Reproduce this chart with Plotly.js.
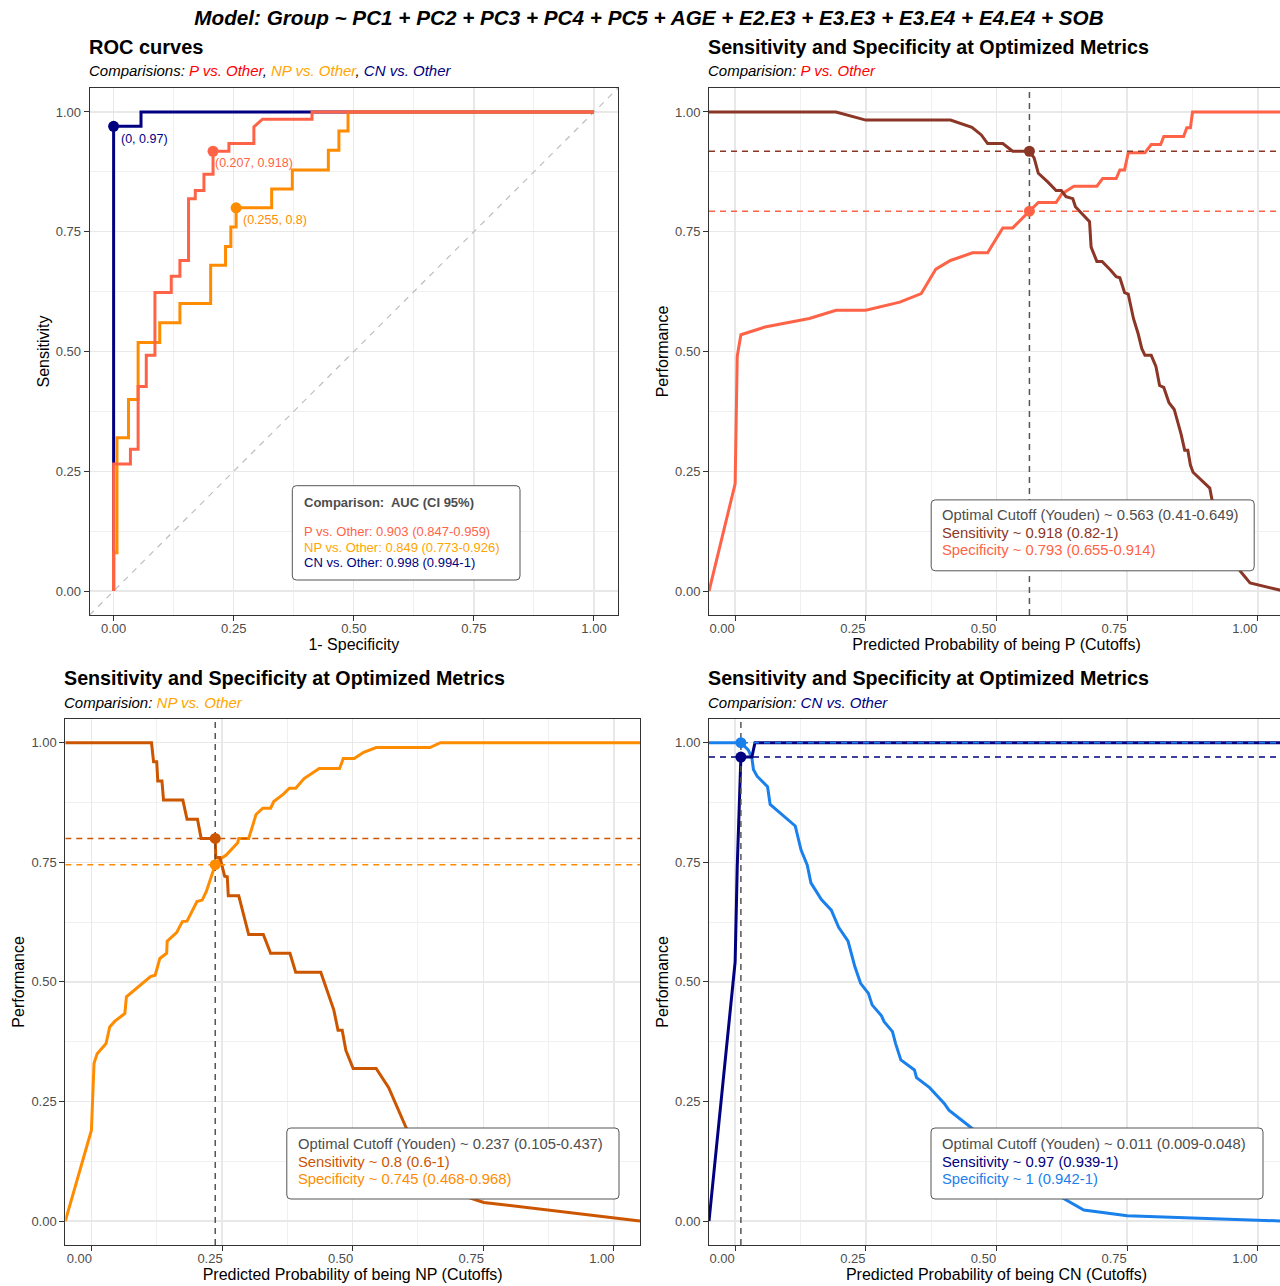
<!DOCTYPE html>
<html><head><meta charset="utf-8">
<script src="https://cdn.plot.ly/plotly-3.0.1.min.js"></script>
<style>html,body{margin:0;padding:0;overflow:hidden;background:#fff;}#chart{width:1290px;height:1286px;}</style>
</head><body><div id="chart"></div>
<script>
// ---------- DATA ----------
const tickVals = [0, 0.25, 0.5, 0.75, 1];
const tickLabels = ['0.00', '0.25', '0.50', '0.75', '1.00'];
const minorVals = [0.125, 0.375, 0.625, 0.875];
const axisRange = [-0.05, 1.05];

// ROC curves (1 - specificity, sensitivity)
const rocP_fpr = [0, 0, 0.035, 0.035, 0.051, 0.051, 0.068, 0.068, 0.086, 0.086, 0.120, 0.120, 0.138, 0.138, 0.156, 0.156, 0.170, 0.170, 0.188, 0.188, 0.207, 0.207, 0.240, 0.240, 0.292, 0.292, 0.310, 0.413, 0.413, 1];
const rocP_tpr = [0, 0.265, 0.265, 0.296, 0.296, 0.427, 0.427, 0.492, 0.492, 0.623, 0.623, 0.657, 0.657, 0.690, 0.690, 0.819, 0.819, 0.836, 0.836, 0.870, 0.870, 0.918, 0.918, 0.934, 0.934, 0.969, 0.985, 0.985, 1, 1];
const rocNP_fpr = [0, 0, 0.007, 0.007, 0.031, 0.031, 0.051, 0.051, 0.096, 0.096, 0.138, 0.138, 0.202, 0.202, 0.233, 0.233, 0.244, 0.244, 0.255, 0.255, 0.329, 0.329, 0.372, 0.372, 0.447, 0.447, 0.469, 0.469, 0.488, 0.488, 1];
const rocNP_tpr = [0, 0.080, 0.080, 0.320, 0.320, 0.400, 0.400, 0.519, 0.519, 0.560, 0.560, 0.600, 0.600, 0.680, 0.680, 0.719, 0.719, 0.760, 0.760, 0.800, 0.800, 0.839, 0.839, 0.879, 0.879, 0.920, 0.920, 0.960, 0.960, 1, 1];
const rocCN_fpr = [0, 0, 0.057, 0.057, 1];
const rocCN_tpr = [0, 0.970, 0.970, 1, 1];

// Optimal points
const optP = {cut: 0.563, sens: 0.918, spec: 0.793};
const optNP = {cut: 0.237, sens: 0.8, spec: 0.745};
const optCN = {cut: 0.011, sens: 0.97, spec: 1};

// AUC table
const aucLabels = ['P vs. Other: 0.903 (0.847-0.959)', 'NP vs. Other: 0.849 (0.773-0.926)', 'CN vs. Other: 0.998 (0.994-1)'];

// P vs Other: performance vs cutoff (axis edges stand for -Inf / +Inf thresholds)
const P_cutSens = [-0.05, 0.193, 0.250, 0.412, 0.453, 0.471, 0.483, 0.512, 0.531, 0.563, 0.572, 0.580, 0.598, 0.614, 0.624, 0.633, 0.646, 0.651, 0.678, 0.681, 0.692, 0.702, 0.718, 0.729, 0.736, 0.745, 0.752, 0.762, 0.771, 0.778, 0.784, 0.796, 0.805, 0.812, 0.820, 0.830, 0.840, 0.853, 0.860, 0.866, 0.871, 0.876, 0.908, 0.912, 0.930, 0.950, 0.966, 0.985, 1.05];
const P_sens = [1, 1, 0.983, 0.983, 0.968, 0.952, 0.934, 0.934, 0.918, 0.918, 0.904, 0.872, 0.854, 0.836, 0.836, 0.823, 0.819, 0.802, 0.771, 0.718, 0.688, 0.688, 0.670, 0.656, 0.654, 0.623, 0.620, 0.569, 0.537, 0.506, 0.492, 0.492, 0.469, 0.429, 0.425, 0.393, 0.379, 0.328, 0.294, 0.294, 0.263, 0.248, 0.215, 0.192, 0.140, 0.080, 0.042, 0.017, 0];
const P_cutSpec = [-0.05, 0, 0.004, 0.011, 0.057, 0.142, 0.193, 0.250, 0.315, 0.356, 0.384, 0.412, 0.454, 0.483, 0.512, 0.531, 0.563, 0.580, 0.614, 0.625, 0.648, 0.692, 0.703, 0.729, 0.736, 0.745, 0.752, 0.784, 0.796, 0.814, 0.820, 0.858, 0.864, 0.871, 0.875, 1.05];
const P_spec = [0, 0.224, 0.490, 0.535, 0.551, 0.569, 0.586, 0.586, 0.603, 0.621, 0.672, 0.690, 0.706, 0.706, 0.758, 0.758, 0.793, 0.811, 0.811, 0.829, 0.845, 0.845, 0.861, 0.861, 0.879, 0.879, 0.915, 0.915, 0.932, 0.932, 0.949, 0.949, 0.967, 0.967, 1, 1];

// NP vs Other
const NP_cutSens = [-0.05, 0.115, 0.119, 0.125, 0.127, 0.135, 0.138, 0.175, 0.183, 0.203, 0.210, 0.237, 0.238, 0.246, 0.255, 0.260, 0.262, 0.282, 0.301, 0.329, 0.343, 0.380, 0.391, 0.439, 0.464, 0.472, 0.480, 0.487, 0.501, 0.545, 0.569, 0.602, 0.650, 0.720, 0.751, 1.05];
const NP_sens = [1, 1, 0.960, 0.960, 0.920, 0.920, 0.880, 0.880, 0.840, 0.840, 0.800, 0.800, 0.760, 0.760, 0.721, 0.720, 0.680, 0.680, 0.599, 0.599, 0.560, 0.560, 0.520, 0.520, 0.441, 0.399, 0.399, 0.357, 0.319, 0.319, 0.279, 0.196, 0.120, 0.050, 0.039, 0];
const NP_cutSpec = [-0.05, 0, 0.005, 0.011, 0.028, 0.035, 0.045, 0.064, 0.067, 0.113, 0.122, 0.131, 0.144, 0.145, 0.163, 0.174, 0.183, 0.202, 0.212, 0.220, 0.237, 0.244, 0.258, 0.280, 0.282, 0.301, 0.307, 0.315, 0.328, 0.343, 0.349, 0.368, 0.379, 0.391, 0.407, 0.436, 0.475, 0.482, 0.503, 0.521, 0.545, 0.648, 0.668, 1.05];
const NP_spec = [0, 0.190, 0.330, 0.350, 0.371, 0.406, 0.418, 0.434, 0.469, 0.511, 0.514, 0.549, 0.560, 0.585, 0.603, 0.626, 0.627, 0.668, 0.671, 0.689, 0.745, 0.755, 0.765, 0.791, 0.800, 0.800, 0.821, 0.850, 0.863, 0.863, 0.877, 0.893, 0.905, 0.905, 0.925, 0.946, 0.946, 0.967, 0.967, 0.980, 0.990, 0.990, 1, 1];

// CN vs Other
const CN_cutSens = [-0.05, 0, 0.004, 0.011, 0.032, 0.038, 1.05];
const CN_sens = [0, 0.542, 0.741, 0.970, 0.970, 1, 1];
const CN_cutSpec = [-0.05, 0.011, 0.025, 0.032, 0.035, 0.042, 0.062, 0.067, 0.115, 0.126, 0.138, 0.145, 0.165, 0.184, 0.198, 0.216, 0.229, 0.240, 0.255, 0.262, 0.280, 0.285, 0.301, 0.307, 0.317, 0.343, 0.347, 0.372, 0.400, 0.409, 0.453, 0.520, 0.580, 0.630, 0.667, 0.750, 1.05];
const CN_spec = [1, 1, 0.985, 0.969, 0.944, 0.930, 0.908, 0.871, 0.826, 0.776, 0.744, 0.707, 0.672, 0.650, 0.614, 0.585, 0.532, 0.497, 0.476, 0.452, 0.429, 0.417, 0.396, 0.371, 0.337, 0.316, 0.300, 0.279, 0.246, 0.232, 0.194, 0.140, 0.080, 0.046, 0.023, 0.011, 0];

// ---------- STYLE ----------
const W = 1290, H = 1286;
const FONT = '"Liberation Sans", Arial, Helvetica, sans-serif';
const C = {
  P: '#FF6347', NP: '#FF8C00', CN: '#000080',
  Psens: '#8B3626', Pspec: '#FF6347',
  NPsens: '#CC5500', NPspec: '#FF8C00',
  CNsens: '#000080', CNspec: '#1A80EC',
  grey: '#4D4D4D'
};
const X = v => v / W, Y = v => 1 - v / H;

function xax(dom, title, shift, anchor) {
  return {
    domain: [X(dom[0]), X(dom[1])], range: axisRange, anchor: anchor,
    tickmode: 'array', tickvals: tickVals, ticktext: tickLabels,
    minor: {tickmode: 'array', tickvals: minorVals, showgrid: true, gridcolor: '#F0F0F0', gridwidth: 1},
    showgrid: true, gridcolor: '#E8E8E8', gridwidth: 1.4, zeroline: false,
    showline: true, mirror: true, linecolor: '#333333', linewidth: 1,
    ticks: 'outside', ticklen: 5, tickcolor: '#333333', tickwidth: 1,
    tickfont: {family: FONT, size: 13, color: C.grey}, ticklabelshift: shift, ticklabelstandoff: -4,
    title: {text: title, font: {family: FONT, size: 16, color: '#000'}, standoff: 1},
    fixedrange: true
  };
}
function yax(dom, title, anchor) {
  return {
    domain: [Y(dom[1]), Y(dom[0])], range: axisRange, anchor: anchor,
    tickmode: 'array', tickvals: tickVals, ticktext: tickLabels,
    minor: {tickmode: 'array', tickvals: minorVals, showgrid: true, gridcolor: '#F0F0F0', gridwidth: 1},
    showgrid: true, gridcolor: '#E8E8E8', gridwidth: 1.4, zeroline: false,
    showline: true, mirror: true, linecolor: '#333333', linewidth: 1,
    ticks: 'outside', ticklen: 5, tickcolor: '#333333', tickwidth: 1,
    tickfont: {family: FONT, size: 13, color: C.grey},
    title: {text: title, font: {family: FONT, size: 16, color: '#000'}, standoff: 2},
    fixedrange: true
  };
}

function line(x, y, color, xa, ya, width, dash) {
  return {type: 'scatter', mode: 'lines', x: x, y: y, xaxis: xa, yaxis: ya,
    line: {color: color, width: width || 3, dash: dash || 'solid'}, hoverinfo: 'skip', showlegend: false};
}
function pt(x, y, color, xa, ya) {
  return {type: 'scatter', mode: 'markers', x: [x], y: [y], xaxis: xa, yaxis: ya,
    marker: {color: color, size: 11}, hoverinfo: 'skip', showlegend: false};
}
const DASH = '6px,5px';

function perfPanel(xa, ya, cutS, sens, cutP, spec, opt, cS, cP) {
  const t = [];
  t.push(line(cutP, spec, cP, xa, ya));
  t.push(line(cutS, sens, cS, xa, ya));
  t.push(line(axisRange, [opt.sens, opt.sens], cS, xa, ya, 1.5, DASH));
  t.push(line(axisRange, [opt.spec, opt.spec], cP, xa, ya, 1.5, DASH));
  t.push(line([opt.cut, opt.cut], axisRange, '#555555', xa, ya, 1.5, DASH));
  t.push(pt(opt.cut, opt.sens, cS, xa, ya));
  t.push(pt(opt.cut, opt.spec, cP, xa, ya));
  return t;
}

const traces = [];
// Panel 1: ROC
traces.push(line(axisRange, axisRange, '#BEBEBE', 'x', 'y', 1.2, '6px,6px'));
traces.push(line(rocCN_fpr, rocCN_tpr, C.CN, 'x', 'y'));
traces.push(line(rocNP_fpr, rocNP_tpr, C.NP, 'x', 'y'));
traces.push(line(rocP_fpr, rocP_tpr, C.P, 'x', 'y'));
traces.push(pt(1 - optCN.spec, optCN.sens, C.CN, 'x', 'y'));
traces.push(pt(1 - optP.spec, optP.sens, C.P, 'x', 'y'));
traces.push(pt(1 - optNP.spec, optNP.sens, C.NP, 'x', 'y'));
// Panels 2-4
traces.push(...perfPanel('x2', 'y2', P_cutSens, P_sens, P_cutSpec, P_spec, optP, C.Psens, C.Pspec));
traces.push(...perfPanel('x3', 'y3', NP_cutSens, NP_sens, NP_cutSpec, NP_spec, optNP, C.NPsens, C.NPspec));
traces.push(...perfPanel('x4', 'y4', CN_cutSens, CN_sens, CN_cutSpec, CN_spec, optCN, C.CNsens, C.CNspec));

// ---------- TEXT ----------
function txt(x, y, text, size, color, extra) {
  return Object.assign({xref: 'paper', yref: 'paper', x: X(x), y: Y(y), text: text, showarrow: false,
    xanchor: 'left', yanchor: 'middle', align: 'left', borderpad: 0, borderwidth: 0,
    font: {family: FONT, size: size, color: color}}, extra || {});
}
function rrect(x0, y0, x1, y1, r) {
  const p = (a, b) => X(a) + ',' + Y(b);
  return 'M ' + p(x0 + r, y0) + ' L ' + p(x1 - r, y0) + ' Q ' + p(x1, y0) + ' ' + p(x1, y0 + r) +
    ' L ' + p(x1, y1 - r) + ' Q ' + p(x1, y1) + ' ' + p(x1 - r, y1) +
    ' L ' + p(x0 + r, y1) + ' Q ' + p(x0, y1) + ' ' + p(x0, y1 - r) +
    ' L ' + p(x0, y0 + r) + ' Q ' + p(x0, y0) + ' ' + p(x0 + r, y0) + ' Z';
}
function box(x0, y0, x1, y1) {
  return {type: 'path', xref: 'paper', yref: 'paper', path: rrect(x0, y0, x1, y1, 4),
    fillcolor: '#FFFFFF', line: {color: '#555555', width: 1}, layer: 'above'};
}
const fmt = v => String(v);
const ann = [];
// panel titles & subtitles
ann.push(txt(89, 47, '<b>ROC curves</b>', 20, '#000'));
ann.push(txt(89, 71, '<i>Comparisions: <span style="color:#FF0000">P vs. Other</span>, <span style="color:#FFA500">NP vs. Other</span>, <span style="color:#000080">CN vs. Other</span></i>', 15, '#000'));
ann.push(txt(708, 47, '<b>Sensitivity and Specificity at Optimized Metrics</b>', 19.7, '#000'));
ann.push(txt(708, 71, '<i>Comparision: <span style="color:#FF0000">P vs. Other</span></i>', 15, '#000'));
ann.push(txt(64, 678, '<b>Sensitivity and Specificity at Optimized Metrics</b>', 19.7, '#000'));
ann.push(txt(64, 702, '<i>Comparision: <span style="color:#FFA500">NP vs. Other</span></i>', 15, '#000'));
ann.push(txt(708, 678, '<b>Sensitivity and Specificity at Optimized Metrics</b>', 19.7, '#000'));
ann.push(txt(708, 702, '<i>Comparision: <span style="color:#000080">CN vs. Other</span></i>', 15, '#000'));

// ROC point labels
function ptLabel(x, y, text, color, xs, ys) {
  return {xref: 'x', yref: 'y', x: x, y: y, text: text, showarrow: false, xanchor: 'left', yanchor: 'top',
    xshift: xs, yshift: ys, borderpad: 0, font: {family: FONT, size: 12.5, color: color}};
}
ann.push(ptLabel(1 - optCN.spec, optCN.sens, '(' + fmt(1 - optCN.spec) + ', ' + fmt(optCN.sens) + ')', C.CN, 6, -5));
ann.push(ptLabel(1 - optP.spec, optP.sens, '(0.207, ' + fmt(optP.sens) + ')', C.P, 1, -4));
ann.push(ptLabel(1 - optNP.spec, optNP.sens, '(' + fmt(+(1 - optNP.spec).toFixed(3)) + ', ' + fmt(optNP.sens) + ')', C.NP, 6, -4));

// AUC box
ann.push(txt(304, 502.7, '<b>Comparison:&nbsp; AUC (CI 95%)</b>', 13, C.grey));
ann.push(txt(304, 531.7, aucLabels[0], 13, C.P));
ann.push(txt(304, 547, aucLabels[1], 13, '#FFA500'));
ann.push(txt(304, 562.3, aucLabels[2], 13, C.CN));

// Youden boxes
function infoBox(x, y0, cutTxt, sensTxt, specTxt, cS, cP) {
  ann.push(txt(x, y0, 'Optimal Cutoff (Youden) ~ ' + cutTxt, 14.8, C.grey));
  ann.push(txt(x, y0 + 17.7, 'Sensitivity ~ ' + sensTxt, 14.8, cS));
  ann.push(txt(x, y0 + 35.4, 'Specificity ~ ' + specTxt, 14.8, cP));
}
infoBox(941.6, 515, optP.cut + ' (0.41-0.649)', optP.sens + ' (0.82-1)', optP.spec + ' (0.655-0.914)', C.Psens, C.Pspec);
infoBox(298, 1144, optNP.cut + ' (0.105-0.437)', optNP.sens + ' (0.6-1)', optNP.spec + ' (0.468-0.968)', C.NPsens, C.NPspec);
infoBox(941.6, 1144, optCN.cut + ' (0.009-0.048)', optCN.sens + ' (0.939-1)', optCN.spec + ' (0.942-1)', C.CNsens, C.CNspec);

const shapes = [
  box(292.3, 485.7, 520, 580),
  box(931.2, 499.9, 1254.2, 570.8),
  box(286.8, 1128, 619, 1199),
  box(931, 1128, 1263, 1199)
];

const layout = {
  width: W, height: H, margin: {l: 0, r: 0, t: 0, b: 0},
  paper_bgcolor: '#FFFFFF', plot_bgcolor: '#FFFFFF', showlegend: false,
  font: {family: FONT},
  title: {text: '<b><i>Model: Group ~ PC1 + PC2 + PC3 + PC4 + PC5 + AGE + E2.E3 + E3.E3 + E3.E4 + E4.E4 + SOB</i></b>',
    x: 649 / W, xanchor: 'center', xref: 'paper', y: Y(18), yref: 'paper', yanchor: 'middle',
    font: {family: FONT, size: 20.7, color: '#000'}},
  xaxis: xax([89.6, 618], '1- Specificity', 0, 'y'),
  yaxis: yax([88, 615], 'Sensitivity', 'x'),
  xaxis2: xax([709, 1284], 'Predicted Probability of being P (Cutoffs)', -13, 'y2'),
  yaxis2: yax([88, 615], 'Performance', 'x2'),
  xaxis3: xax([65.3, 640], 'Predicted Probability of being NP (Cutoffs)', -12, 'y3'),
  yaxis3: yax([718.8, 1245], 'Performance', 'x3'),
  xaxis4: xax([709, 1284], 'Predicted Probability of being CN (Cutoffs)', -13, 'y4'),
  yaxis4: yax([718.8, 1245], 'Performance', 'x4'),
  annotations: ann, shapes: shapes
};

Plotly.newPlot('chart', traces, layout, {staticPlot: true, displayModeBar: false});
</script></body></html>
